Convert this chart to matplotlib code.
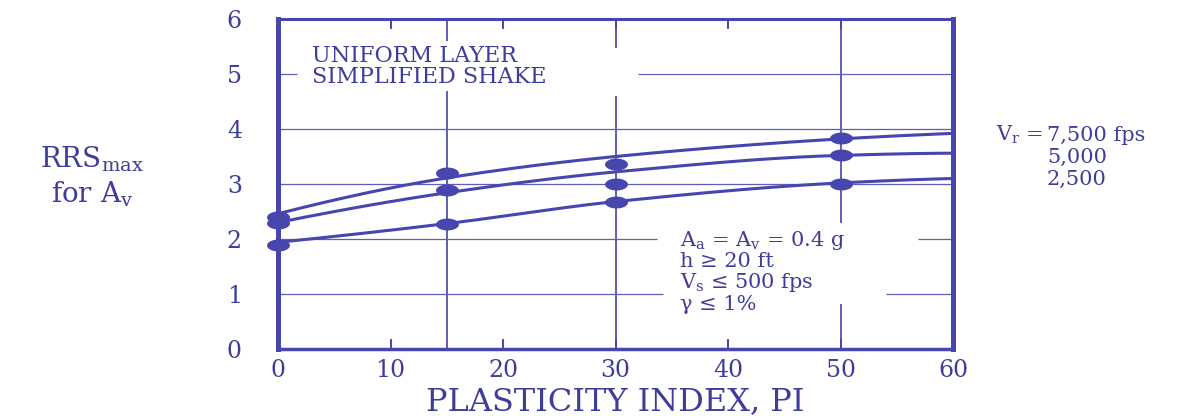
import numpy as np
import matplotlib
matplotlib.use("Agg")
import matplotlib.pyplot as plt
from matplotlib.path import Path

# Computed peak ratios at the analysed plasticity indices
pi_points = [0, 15, 30, 50]
rrs_7500 = [2.40, 3.20, 3.37, 3.83]
rrs_5000 = [2.29, 2.90, 3.00, 3.52]
rrs_2500 = [1.89, 2.27, 2.67, 3.00]

# Faired design curves through the computed ratios
pi_curve = [0, 15, 30, 50, 60]
curve_7500 = [2.46, 3.11, 3.50, 3.82, 3.92]
curve_5000 = [2.30, 2.84, 3.22, 3.52, 3.56]
curve_2500 = [1.94, 2.28, 2.68, 3.02, 3.10]

x_ticks = [0, 10, 20, 30, 40, 50, 60]
y_ticks = [0, 1, 2, 3, 4, 5, 6]
rock_prefix = r"V$_\mathrm{r}$ = "
rock_labels = ["7,500 fps", "5,000", "2,500"]
conditions = [r"A$_\mathrm{a}$ = A$_\mathrm{v}$ = 0.4 g", "h ≥ 20 ft",
              r"V$_\mathrm{s}$ ≤ 500 fps", "γ ≤ 1%"]
title_lines = ["UNIFORM LAYER", "SIMPLIFIED SHAKE"]
x_title = "PLASTICITY INDEX, PI"

INK = "#3d3d9c"
LINE = "#4646ae"
GRID = "#5e5eb4"

plt.rcParams["font.family"] = ["DejaVu Serif"]
plt.rcParams["mathtext.fontset"] = "dejavuserif"

W, H = 1177, 416
fig = plt.figure(figsize=(W / 100, H / 100), dpi=100)
fig.patch.set_facecolor("white")


def fx(px):
    return px / W


def fy(py):
    return 1 - py / H


ax = fig.add_axes([fx(278), fy(349), fx(953) - fx(278), fy(19) - fy(349)])
ax.set_xlim(0, 60)
ax.set_ylim(0, 6)


def pchip(x, y, xs):
    x = np.asarray(x, float)
    y = np.asarray(y, float)
    h = np.diff(x)
    d = np.diff(y) / h
    m = np.zeros_like(y)
    for k in range(1, len(x) - 1):
        if d[k - 1] * d[k] > 0:
            w1 = 2 * h[k] + h[k - 1]
            w2 = h[k] + 2 * h[k - 1]
            m[k] = (w1 + w2) / (w1 / d[k - 1] + w2 / d[k])

    def end_slope(h0, h1, d0, d1):
        s = ((2 * h0 + h1) * d0 - h0 * d1) / (h0 + h1)
        if np.sign(s) != np.sign(d0):
            s = 0.0
        elif np.sign(d0) != np.sign(d1) and abs(s) > abs(3 * d0):
            s = 3 * d0
        return s

    m[0] = end_slope(h[0], h[1], d[0], d[1])
    m[-1] = end_slope(h[-1], h[-2], d[-1], d[-2])
    idx = np.clip(np.searchsorted(x, xs) - 1, 0, len(x) - 2)
    t = (xs - x[idx]) / h[idx]
    h00 = 2 * t**3 - 3 * t**2 + 1
    h10 = t**3 - 2 * t**2 + t
    h01 = -2 * t**3 + 3 * t**2
    h11 = t**3 - t**2
    return (h00 * y[idx] + h10 * h[idx] * m[idx]
            + h01 * y[idx + 1] + h11 * h[idx] * m[idx + 1])


# Broken grid lines, interrupted where the notes sit
h_segments = [(1, 0, 34.2), (1, 54.0, 60), (2, 0, 33.7), (2, 56.9, 60),
              (3, 0, 60), (4, 0, 60), (5, 0, 1.7), (5, 32.0, 60)]
for yv, x0, x1 in h_segments:
    ax.hlines(yv, x0, x1, color=GRID, lw=0.9, zorder=1)
v_segments = [(15, 0, 4.69), (15, 5.6, 6), (30, 0, 4.6), (30, 5.47, 6),
              (50, 2.3, 6), (50, 0, 0.81)]
for xv, y0, y1 in v_segments:
    ax.vlines(xv, y0, y1, color=GRID, lw=1.4, zorder=1)

# Design curves
xs = np.linspace(pi_curve[0], pi_curve[-1], 300)
for cv in (curve_7500, curve_5000, curve_2500):
    ax.plot(xs, pchip(pi_curve, cv, xs), color=LINE, lw=2.2, zorder=3,
            solid_capstyle="butt")

# Elliptical dots for the computed values
theta = np.linspace(0, 2 * np.pi, 80)
ellipse = Path(np.column_stack([np.cos(theta), 0.52 * np.sin(theta)]), closed=True)
for vals in (rrs_7500, rrs_5000, rrs_2500):
    ax.plot(pi_points, vals, linestyle="none", marker=ellipse, markersize=16.5,
            color=LINE, markeredgewidth=0, zorder=4, clip_on=False)

# Frame
for side, lw in (("left", 3.6), ("right", 3.6), ("top", 2.2), ("bottom", 2.5)):
    ax.spines[side].set_linewidth(lw)
    ax.spines[side].set_color(LINE)

ax.set_xticks(x_ticks)
ax.set_yticks(y_ticks)
ax.set_xticklabels([str(v) for v in x_ticks])
ax.set_yticklabels([str(v) for v in y_ticks])
ax.tick_params(axis="x", direction="in", top=True, length=7, width=1.4,
               color=LINE, labelcolor=INK, labelsize=17, pad=7)
ax.tick_params(axis="y", length=0, labelcolor=INK, labelsize=17, pad=26)

# Notes inside the plot
fig.text(fx(312), fy(62), title_lines[0], color=INK, fontsize=16, va="baseline")
fig.text(fx(312), fy(83), title_lines[1], color=INK, fontsize=16, va="baseline")
for txt, base in zip(conditions, [246, 267, 288, 310]):
    fig.text(fx(680), fy(base), txt, color=INK, fontsize=15, va="baseline")

# Curve labels at the right
fig.text(fx(1045), fy(141), rock_prefix, color=INK, fontsize=15,
         va="baseline", ha="right")
for txt, base in zip(rock_labels, [141, 163, 185]):
    fig.text(fx(1047), fy(base), txt, color=INK, fontsize=15, va="baseline")

# Axis titles
fig.text(fx(615), fy(410), x_title, color=INK, fontsize=23, va="baseline",
         ha="center")
fig.text(fx(92), fy(167), r"RRS$_\mathrm{max}$", color=INK, fontsize=20,
         va="baseline", ha="center")
fig.text(fx(92), fy(203), r"for A$_\mathrm{v}$", color=INK, fontsize=20,
         va="baseline", ha="center")

fig.savefig("out.png", dpi=100, facecolor="white")
